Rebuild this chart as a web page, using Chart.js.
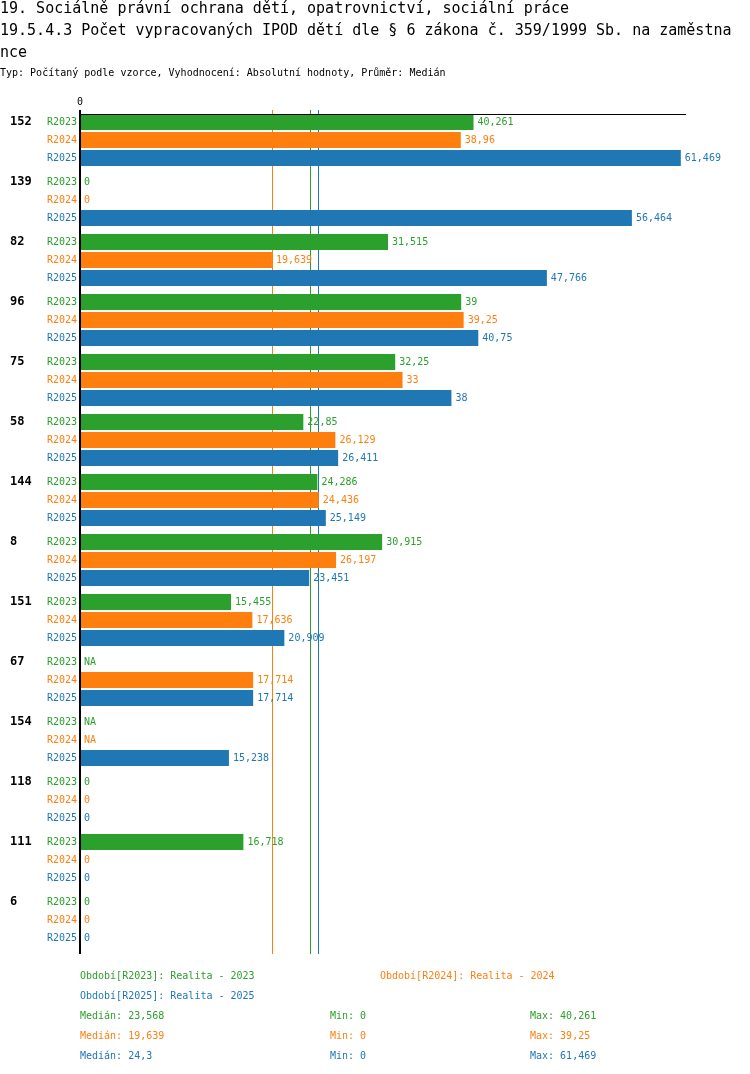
<!DOCTYPE html>
<html>
<head>
<meta charset="utf-8">
<script src="https://cdn.jsdelivr.net/npm/chart.js@4/dist/chart.umd.min.js"></script>
<style>
  html, body { margin: 0; padding: 0; background: #fff; }
  body { width: 750px; height: 1074px; position: relative; overflow: hidden; font-family: "DejaVu Sans Mono", monospace; }
  .t { position: absolute; white-space: pre; line-height: 20px; }
  .big { font-size: 15px; color: #000; }
  .sm { font-size: 10px; }
  #c { position: absolute; left: 0; top: 0; }
</style>
</head>
<body>
<canvas id="c" width="750" height="1074"></canvas>
<div class="t big" style="left:0;top:-2px">19. Sociálně právní ochrana dětí, opatrovnictví, sociální práce</div>
<div class="t big" style="left:0;top:20px">19.5.4.3 Počet vypracovaných IPOD dětí dle § 6 zákona č. 359/1999 Sb. na zaměstna</div>
<div class="t big" style="left:0;top:42px">nce</div>
<div class="t sm" style="left:0;top:63px;color:#000">Typ: Počítaný podle vzorce, Vyhodnocení: Absolutní hodnoty, Průměr: Medián</div>
<div id="footer"></div>
<script>
const categories = ["152", "139", "82", "96", "75", "58", "144", "8", "151", "67", "154", "118", "111", "6"];
const seriesNames = ["R2023", "R2024", "R2025"];
const seriesTitles = ["Realita - 2023", "Realita - 2024", "Realita - 2025"];
const r2023 = [40.261, 0, 31.515, 39, 32.25, 22.85, 24.286, 30.915, 15.455, null, null, 0, 16.718, 0];
const r2024 = [38.96, 0, 19.639, 39.25, 33, 26.129, 24.436, 26.197, 17.636, 17.714, null, 0, 0, 0];
const r2025 = [61.469, 56.464, 47.766, 40.75, 38, 26.411, 25.149, 23.451, 20.909, 17.714, 15.238, 0, 0, 0];
const medians = [23.568, 19.639, 24.3];
const mins = [0, 0, 0];
const maxs = [40.261, 39.25, 61.469];
const colors = ["#2ca02c", "#ff7f0e", "#1f77b4"];
const xMax = 62;

function fmt(v) { return v === null ? "NA" : String(v).replace(".", ","); }

// footer (legend + stats)
const footer = document.getElementById("footer");
function addText(txt, x, yc, color) {
  const d = document.createElement("div");
  d.className = "t sm";
  d.style.left = x + "px";
  d.style.top = (yc - 10) + "px";
  d.style.color = color;
  d.textContent = txt;
  footer.appendChild(d);
}
addText("Období[" + seriesNames[0] + "]: " + seriesTitles[0], 80, 976, colors[0]);
addText("Období[" + seriesNames[1] + "]: " + seriesTitles[1], 380, 976, colors[1]);
addText("Období[" + seriesNames[2] + "]: " + seriesTitles[2], 80, 996, colors[2]);
for (let i = 0; i < 3; i++) {
  const y = 1016 + i * 20;
  addText("Medián: " + fmt(medians[i]), 80, y, colors[i]);
  addText("Min: " + fmt(mins[i]), 330, y, colors[i]);
  addText("Max: " + fmt(maxs[i]), 530, y, colors[i]);
}

const seriesData = [r2023, r2024, r2025];

const decor = {
  id: "decor",
  beforeDatasetsDraw(chart) {
    const ctx = chart.ctx, xs = chart.scales.x, a = chart.chartArea;
    ctx.save();
    ctx.lineWidth = 1;
    medians.forEach((m, i) => {
      const x = Math.round(xs.getPixelForValue(m)) + 0.5;
      ctx.strokeStyle = colors[i];
      ctx.beginPath();
      ctx.moveTo(x, a.top);
      ctx.lineTo(x, a.bottom + 4);
      ctx.stroke();
    });
    ctx.restore();
  },
  afterDatasetsDraw(chart) {
    const ctx = chart.ctx, xs = chart.scales.x, a = chart.chartArea;
    ctx.save();
    const x0 = xs.getPixelForValue(0);
    // top axis line
    ctx.strokeStyle = "#000";
    ctx.lineWidth = 1;
    ctx.beginPath();
    ctx.moveTo(x0, a.top + 4.5);
    ctx.lineTo(xs.getPixelForValue(xMax), a.top + 4.5);
    ctx.stroke();
    // vertical axis line
    ctx.lineWidth = 2;
    ctx.beginPath();
    ctx.moveTo(x0, a.top);
    ctx.lineTo(x0, a.bottom + 4);
    ctx.stroke();
    // zero tick label
    ctx.font = "10px 'DejaVu Sans Mono'";
    ctx.fillStyle = "#000";
    ctx.textAlign = "center";
    ctx.textBaseline = "middle";
    ctx.fillText("0", x0, a.top - 8);
    // labels
    for (let d = 0; d < 3; d++) {
      const meta = chart.getDatasetMeta(d);
      meta.data.forEach((bar, i) => {
        const v = seriesData[d][i];
        const y = bar.y;
        ctx.font = "10px 'DejaVu Sans Mono'";
        ctx.fillStyle = colors[d];
        ctx.textAlign = "right";
        ctx.fillText(seriesNames[d], x0 - 3, y);
        ctx.textAlign = "left";
        const xe = v === null ? x0 : xs.getPixelForValue(v);
        ctx.fillText(fmt(v), xe + 4, y);
        if (d === 1) {
          ctx.font = "bold 12px 'DejaVu Sans Mono'";
          ctx.fillStyle = "#000";
          ctx.fillText(categories[i], 10, chart.getDatasetMeta(0).data[i].y + 0);
        }
      });
    }
    ctx.restore();
  }
};

new Chart(document.getElementById("c"), {
  type: "bar",
  data: {
    labels: categories,
    datasets: seriesData.map((arr, i) => ({
      label: seriesNames[i],
      data: arr,
      backgroundColor: colors[i],
      borderWidth: 0,
      categoryPercentage: 0.9,
      barPercentage: 16 / 18
    }))
  },
  options: {
    indexAxis: "y",
    responsive: false,
    animation: false,
    devicePixelRatio: 1,
    layout: { padding: { left: 80, right: 64, top: 110, bottom: 124 } },
    plugins: { legend: { display: false }, tooltip: { enabled: false }, title: { display: false } },
    scales: {
      x: { display: false, min: 0, max: xMax },
      y: { display: false }
    }
  },
  plugins: [decor]
});
</script>
</body>
</html>
